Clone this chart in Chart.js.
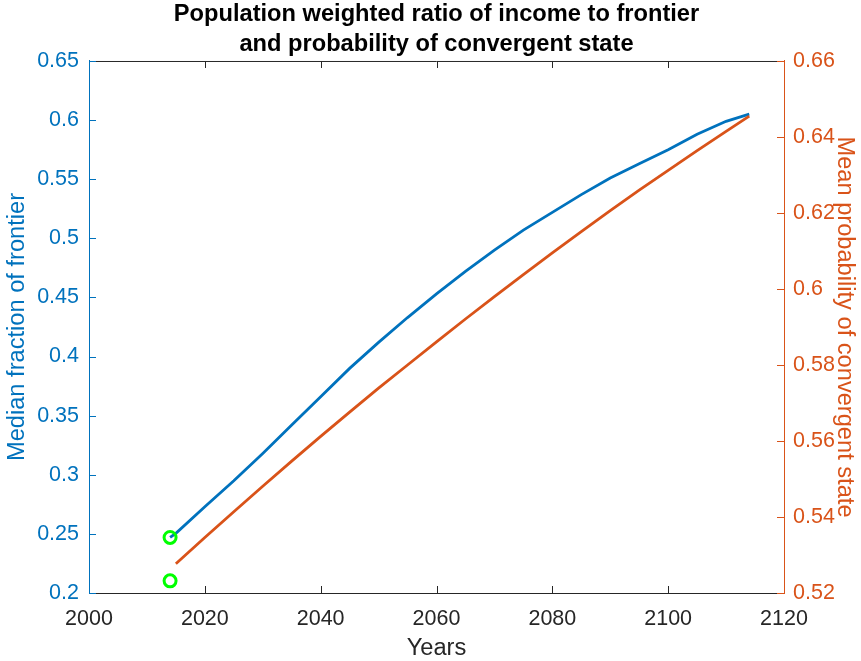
<!DOCTYPE html>
<html>
<head>
<meta charset="utf-8">
<script src="https://cdn.jsdelivr.net/npm/chart.js@4/dist/chart.umd.min.js"></script>
<style>
  html, body { margin: 0; padding: 0; background: #ffffff; }
  #wrap { width: 861px; height: 661px; }
</style>
</head>
<body>
<div id="wrap"><canvas id="c" width="861" height="661"></canvas></div>
<script>
// ---- data ----
const yearsIncome = [2014, 2015, 2020, 2025, 2030, 2035, 2040, 2045, 2050, 2055, 2060, 2065, 2070, 2075, 2080, 2085, 2090, 2095, 2100, 2105, 2110, 2114];
const incomeRatio = [0.247, 0.2505, 0.273, 0.295, 0.318, 0.342, 0.366, 0.390, 0.412, 0.433, 0.453, 0.472, 0.490, 0.507, 0.522, 0.537, 0.551, 0.563, 0.575, 0.588, 0.599, 0.605];

const yearsConv = [2015, 2020, 2025, 2030, 2035, 2040, 2045, 2050, 2055, 2060, 2065, 2070, 2075, 2080, 2085, 2090, 2095, 2100, 2105, 2110, 2114];
const probConv = [0.5277, 0.5346, 0.5414, 0.5481, 0.5547, 0.5612, 0.5676, 0.5739, 0.5800, 0.5861, 0.5921, 0.5980, 0.6038, 0.6095, 0.6151, 0.6206, 0.6260, 0.6312, 0.6364, 0.6415, 0.6455];

const startYear = [2014];
const startIncome = [0.247];
const startProb = [0.5232];

const xTicks = [2000, 2020, 2040, 2060, 2080, 2100, 2120];
const yLeftTicks = [0.2, 0.25, 0.3, 0.35, 0.4, 0.45, 0.5, 0.55, 0.6, 0.65];
const yRightTicks = [0.52, 0.54, 0.56, 0.58, 0.6, 0.62, 0.64, 0.66];

const titleLines = ['Population weighted ratio of income to frontier', 'and probability of convergent state'];
const xLabel = 'Years';
const yLeftLabel = 'Median fraction of frontier';
const yRightLabel = 'Mean probability of convergent state';

// ---- styling ----
const BLUE = '#0072BD';
const ORANGE = '#D95319';
const GREEN = '#00FF00';
const DARK = '#262626';
const FONT = "'Liberation Sans', Arial, Helvetica, sans-serif";
const TICK_SIZE = 21.5;
const LABEL_SIZE = 23.65;

const toXY = (xs, ys) => xs.map((x, i) => ({ x: x, y: ys[i] }));
const fmt = v => String(+(+v).toFixed(2));

const insideTicks = {
  id: 'insideTicks',
  afterDatasetsDraw(chart) {
    const ctx = chart.ctx;
    const a = chart.chartArea;
    const L = 7;
    ctx.save();
    ctx.lineWidth = 1;
    ctx.strokeStyle = DARK;
    ctx.beginPath();
    ctx.moveTo(a.left, a.top + 0.5);
    ctx.lineTo(a.right, a.top + 0.5);
    ctx.stroke();
    const sx = chart.scales.x;
    sx.ticks.forEach(t => {
      const px = Math.round(sx.getPixelForValue(t.value)) + 0.5;
      if (px <= a.left + 1 || px >= a.right - 1) return;
      ctx.beginPath();
      ctx.moveTo(px, a.bottom);
      ctx.lineTo(px, a.bottom - L);
      ctx.moveTo(px, a.top);
      ctx.lineTo(px, a.top + L);
      ctx.stroke();
    });
    const sy = chart.scales.y;
    ctx.strokeStyle = BLUE;
    sy.ticks.forEach(t => {
      const py = Math.round(sy.getPixelForValue(t.value)) + 0.5;
      ctx.beginPath();
      ctx.moveTo(a.left, py);
      ctx.lineTo(a.left + L, py);
      ctx.stroke();
    });
    const sy1 = chart.scales.y1;
    ctx.strokeStyle = ORANGE;
    sy1.ticks.forEach(t => {
      const py = Math.round(sy1.getPixelForValue(t.value)) + 0.5;
      ctx.beginPath();
      ctx.moveTo(a.right, py);
      ctx.lineTo(a.right - L, py);
      ctx.stroke();
    });
    ctx.restore();
  }
};

const markerStyle = {
  type: 'scatter',
  pointStyle: 'circle',
  pointRadius: 6,
  pointBorderWidth: 3,
  pointBorderColor: GREEN,
  pointBackgroundColor: 'rgba(0,0,0,0)',
  order: 0
};

new Chart(document.getElementById('c'), {
  type: 'line',
  data: {
    datasets: [
      Object.assign({ data: toXY(startYear, startIncome), yAxisID: 'y' }, markerStyle),
      Object.assign({ data: toXY(startYear, startProb), yAxisID: 'y1' }, markerStyle),
      {
        data: toXY(yearsIncome, incomeRatio),
        yAxisID: 'y',
        borderColor: BLUE,
        borderWidth: 2.8,
        pointRadius: 0,
        tension: 0,
        fill: false,
        order: 2
      },
      {
        data: toXY(yearsConv, probConv),
        yAxisID: 'y1',
        borderColor: ORANGE,
        borderWidth: 2.8,
        pointRadius: 0,
        tension: 0,
        fill: false,
        order: 1
      }
    ]
  },
  options: {
    responsive: false,
    animation: false,
    devicePixelRatio: 1,
    layout: { padding: 0 },
    plugins: {
      legend: { display: false },
      tooltip: { enabled: false },
      title: {
        display: true,
        fullSize: false,
        text: titleLines,
        color: '#000000',
        font: { family: FONT, size: LABEL_SIZE, weight: 'bold', lineHeight: 1.26 },
        padding: { top: 0, bottom: 1.4 }
      }
    },
    scales: {
      x: {
        type: 'linear',
        position: 'bottom',
        min: 2000,
        max: 2120,
        afterBuildTicks: s => { s.ticks = xTicks.map(v => ({ value: v })); },
        afterFit: s => { s.height = 68; },
        ticks: {
          color: DARK,
          font: { family: FONT, size: TICK_SIZE },
          padding: 13,
          maxRotation: 0,
          autoSkip: false,
          callback: v => String(v)
        },
        grid: { display: true, drawOnChartArea: false, drawTicks: false },
        border: { display: true, color: DARK, width: 1 },
        title: {
          display: true,
          text: xLabel,
          color: DARK,
          font: { family: FONT, size: LABEL_SIZE, lineHeight: 1.1 },
          padding: { top: 0, bottom: 0 }
        }
      },
      y: {
        type: 'linear',
        position: 'left',
        min: 0.2,
        max: 0.65,
        afterBuildTicks: s => { s.ticks = yLeftTicks.map(v => ({ value: v })); },
        afterFit: s => { s.width = 89; },
        ticks: {
          color: BLUE,
          font: { family: FONT, size: TICK_SIZE },
          padding: 10,
          autoSkip: false,
          callback: v => fmt(v)
        },
        grid: { display: true, drawOnChartArea: false, drawTicks: false },
        border: { display: true, color: BLUE, width: 1 },
        title: {
          display: true,
          text: yLeftLabel,
          color: BLUE,
          font: { family: FONT, size: LABEL_SIZE, lineHeight: 1.2 },
          padding: { top: 3, bottom: 0 }
        }
      },
      y1: {
        type: 'linear',
        position: 'right',
        min: 0.52,
        max: 0.66,
        afterBuildTicks: s => { s.ticks = yRightTicks.map(v => ({ value: v })); },
        afterFit: s => { s.width = 77; },
        ticks: {
          color: ORANGE,
          font: { family: FONT, size: TICK_SIZE },
          padding: 9,
          autoSkip: false,
          callback: v => fmt(v)
        },
        grid: { display: true, drawOnChartArea: false, drawTicks: false },
        border: { display: true, color: ORANGE, width: 1 },
        title: {
          display: true,
          text: yRightLabel,
          color: ORANGE,
          font: { family: FONT, size: LABEL_SIZE, lineHeight: 1.2 },
          padding: { top: 2, bottom: 0 }
        }
      }
    }
  },
  plugins: [insideTicks]
});
</script>
</body>
</html>
